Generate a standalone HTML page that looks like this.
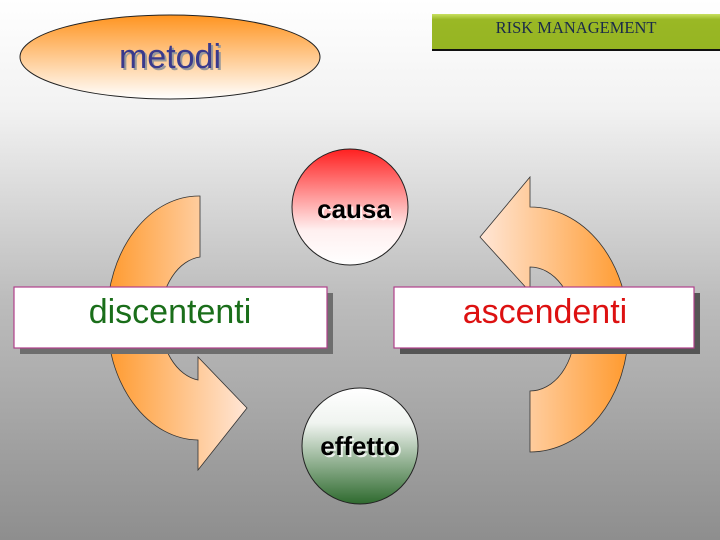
<!DOCTYPE html>
<html><head><meta charset="utf-8"><style>
body{margin:0;width:720px;height:540px;overflow:hidden;background:linear-gradient(#ffffff 0%,#f2f2f2 20%,#bdbdbd 55%,#8e8e8e 100%);font-family:"Liberation Sans",sans-serif;}
</style></head><body>
<svg width="720" height="540" viewBox="0 0 720 540" style="position:absolute;left:0;top:0">
<defs>
<linearGradient id="lo" x1="0" x2="1" y1="0" y2="0"><stop offset="0" stop-color="#ff9a2e"/><stop offset="1" stop-color="#ffe6d6"/></linearGradient>
<linearGradient id="ro" x1="0" x2="1" y1="0" y2="0"><stop offset="0" stop-color="#ffe6d6"/><stop offset="1" stop-color="#ff9a2e"/></linearGradient>
<linearGradient id="red" x1="0" x2="0" y1="0" y2="1"><stop offset="0" stop-color="#ff2020"/><stop offset="0.7" stop-color="#fff0f0"/><stop offset="1" stop-color="#ffffff"/></linearGradient>
<linearGradient id="grn" x1="0" x2="0" y1="0" y2="1"><stop offset="0" stop-color="#ffffff"/><stop offset="0.3" stop-color="#f0f4f0"/><stop offset="1" stop-color="#2e6a2e"/></linearGradient>
<linearGradient id="met" x1="0" x2="0" y1="0" y2="1"><stop offset="0" stop-color="#ff9420"/><stop offset="1" stop-color="#ffffff"/></linearGradient>
<linearGradient id="rk" x1="0" x2="0" y1="0" y2="1"><stop offset="0" stop-color="#c8e060"/><stop offset="0.15" stop-color="#9ab825"/><stop offset="1" stop-color="#95b422"/></linearGradient>
</defs>
<ellipse cx="170" cy="57" rx="150" ry="42" fill="url(#met)" stroke="#222" stroke-width="1"/>
<text x="172" y="70" font-size="34" text-anchor="middle" fill="#999">metodi</text>
<text x="170" y="68" font-size="34" text-anchor="middle" fill="#3a3a8c">metodi</text>
<rect x="432" y="14" width="288" height="37" fill="url(#rk)"/>
<rect x="432" y="49" width="288" height="2" fill="#111"/>
<text x="576" y="33" font-size="16.5" font-family="Liberation Serif,serif" text-anchor="middle" fill="#1a2a4a">RISK MANAGEMENT</text>
<path d="M200,196 A92,122 0 0 0 198,440 L198,470 L247,408 L198,357 L198,380 A44,62 0 0 1 200,257 Z" fill="url(#lo)" stroke="#333" stroke-width="0.8"/>
<path d="M530,452 A98,122 0 0 0 530,207 L530,177 L480,237 L530,292 L530,267 A45,62 0 0 1 530,391 Z" fill="url(#ro)" stroke="#333" stroke-width="0.8"/>
<circle cx="350" cy="207" r="58" fill="url(#red)" stroke="#222" stroke-width="1"/>
<text x="356" y="220" font-size="26" font-weight="bold" text-anchor="middle" fill="#fff" opacity="0.8">causa</text>
<text x="354" y="218" font-size="26" font-weight="bold" text-anchor="middle" fill="#000">causa</text>
<circle cx="360" cy="446" r="58" fill="url(#grn)" stroke="#222" stroke-width="1"/>
<text x="362" y="457" font-size="26" font-weight="bold" text-anchor="middle" fill="#fff" opacity="0.8">effetto</text>
<text x="360" y="455" font-size="26" font-weight="bold" text-anchor="middle" fill="#000">effetto</text>
<rect x="20" y="293" width="313" height="61" fill="#6e6e6e"/>
<rect x="14" y="287" width="313" height="61" fill="#fff" stroke="#b0408a" stroke-width="1.2"/>
<text x="170" y="323" font-size="34" text-anchor="middle" fill="#1a6e1a">discententi</text>
<rect x="400" y="293" width="300" height="61" fill="#555"/>
<rect x="394" y="287" width="300" height="61" fill="#fff" stroke="#b0408a" stroke-width="1.2"/>
<text x="545" y="323" font-size="34" text-anchor="middle" fill="#dd1111">ascendenti</text>
</svg>
</body></html>
